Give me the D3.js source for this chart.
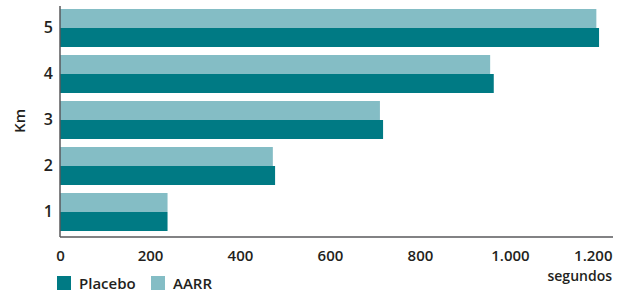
<!DOCTYPE html>
<html>
<head>
<meta charset="utf-8">
<script src="https://cdn.jsdelivr.net/npm/d3@7"></script>
<style>
  body { margin: 0; background: #fff; }
  text { font-family: "Open Sans", sans-serif; fill: #231f20; }
</style>
</head>
<body>
<div id="chart"></div>
<script>
// data
var kms = ["5", "4", "3", "2", "1"];
var placebo = [1198, 964, 718, 478, 239];
var aarr = [1192, 956, 711, 473, 239];
var xTicks = [0, 200, 400, 600, 800, 1000, 1200];
var seriesNames = ["Placebo", "AARR"];
var colors = ["#007a84", "#84bdc5"];

var width = 626, height = 291;
var mLeft = 60, mRight = 613, mTop = 5, mBottom = 237;

var svg = d3.select("#chart").append("svg")
  .attr("width", width)
  .attr("height", height);

var x = d3.scaleLinear()
  .domain([0, 1229])
  .range([mLeft, mRight]);

var y = d3.scaleBand()
  .domain(kms)
  .range([mTop, mBottom - 2])
  .paddingInner(0.174)
  .paddingOuter(0.087);

var sub = d3.scaleBand()
  .domain(["AARR", "Placebo"])
  .range([0, y.bandwidth()]);

// bars: AARR on top, Placebo below within each group
var rows = kms.map(function(k, i) {
  return { km: k, Placebo: placebo[i], AARR: aarr[i] };
});

var groups = svg.selectAll(".grp")
  .data(rows)
  .enter().append("g")
  .attr("class", "grp")
  .attr("transform", function(d) { return "translate(0," + y(d.km) + ")"; });

groups.selectAll("rect")
  .data(function(d) {
    return seriesNames.map(function(s, j) { return { s: s, v: d[s], c: colors[j] }; });
  })
  .enter().append("rect")
  .attr("x", x(0))
  .attr("y", function(d) { return sub(d.s); })
  .attr("width", function(d) { return x(d.v) - x(0); })
  .attr("height", sub.bandwidth())
  .attr("fill", function(d) { return d.c; });

// x axis
var xAxis = d3.axisBottom(x)
  .tickValues(xTicks)
  .tickSize(0)
  .tickPadding(13)
  .tickFormat(function(d) { return d3.format(",")(d).replace(/,/g, "."); });

var gx = svg.append("g")
  .attr("transform", "translate(0," + mBottom + ")")
  .call(xAxis);
gx.select(".domain").remove();
gx.selectAll("text")
  .style("font-size", "15px")
  .style("font-weight", "600")
  .attr("fill", "#231f20");
gx.selectAll("text").filter(function(d) { return d === 1200; })
  .attr("text-anchor", "end")
  .attr("dx", mRight - x(1200) - 1);

svg.append("line")
  .attr("x1", mLeft).attr("x2", mRight)
  .attr("y1", mBottom).attr("y2", mBottom)
  .attr("stroke", "#58595b").attr("stroke-width", 1.5);

// y axis
var yAxis = d3.axisLeft(y).tickSize(0).tickPadding(7);
var gy = svg.append("g")
  .attr("transform", "translate(" + mLeft + ",0)")
  .call(yAxis);
gy.select(".domain").remove();
gy.selectAll("text")
  .style("font-size", "16px")
  .style("font-weight", "600")
  .attr("fill", "#231f20");

svg.append("line")
  .attr("x1", mLeft).attr("x2", mLeft)
  .attr("y1", 6).attr("y2", mBottom)
  .attr("stroke", "#58595b").attr("stroke-width", 1.5);

// axis titles
svg.append("text")
  .attr("transform", "translate(25,121) rotate(-90)")
  .attr("text-anchor", "middle")
  .style("font-size", "15px")
  .style("font-weight", "600")
  .text("Km");

svg.append("text")
  .attr("x", mRight - 1)
  .attr("y", 281)
  .attr("text-anchor", "end")
  .style("font-size", "14px")
  .style("font-weight", "600")
  .text("segundos");

// legend
var legX = [57, 151];
var leg = svg.selectAll(".leg")
  .data(seriesNames)
  .enter().append("g")
  .attr("class", "leg")
  .attr("transform", function(d, i) { return "translate(" + legX[i] + ",276)"; });
leg.append("rect")
  .attr("width", 14).attr("height", 14)
  .attr("fill", function(d, i) { return colors[i]; });
leg.append("text")
  .attr("x", 22).attr("y", 12.5)
  .style("font-size", "15px")
  .style("font-weight", "600")
  .text(function(d) { return d; });
</script>
</body>
</html>
